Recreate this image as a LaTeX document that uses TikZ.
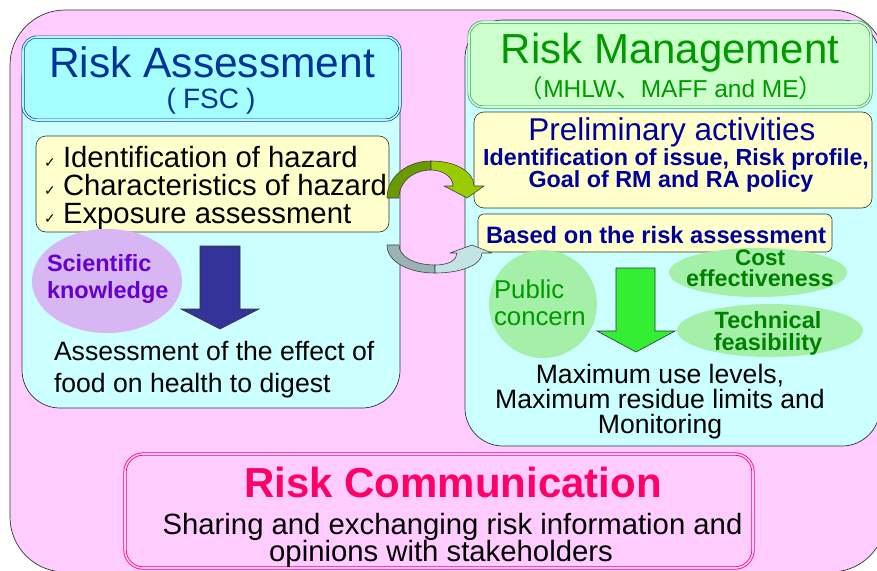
\documentclass[tikz,border=0pt]{standalone}
\usepackage{fontspec}
\setmainfont{Liberation Sans}
\newfontfamily\cjk{Noto Sans CJK JP}
\newfontfamily\dejavu{DejaVu Sans}
\usetikzlibrary{shapes.geometric}
\newcommand{\fsz}[1]{\fontsize{#1}{#1}\selectfont}
\definecolor{pinkbg}{HTML}{FFCCFF}
\definecolor{cyanp}{HTML}{CCFFFF}
\definecolor{hdrA}{HTML}{A6FFFF}
\definecolor{hdrAline}{HTML}{333399}
\definecolor{hdrM}{HTML}{CCFFCC}
\definecolor{hdrMline}{HTML}{3E9A6E}
\definecolor{yel}{HTML}{FFFFCC}
\definecolor{navy}{HTML}{000099}
\definecolor{rablue}{HTML}{003399}
\definecolor{rmgreen}{HTML}{009900}
\definecolor{dkgreen}{HTML}{008000}
\definecolor{comm}{HTML}{FF0066}
\definecolor{purp}{HTML}{6600CC}
\definecolor{lav}{HTML}{D8B6F4}
\definecolor{lgreen}{HTML}{A4F0A8}
\definecolor{arrblue}{HTML}{333399}
\definecolor{arrgreen}{HTML}{33EE33}
\definecolor{oliveD}{HTML}{6B9900}
\definecolor{oliveL}{HTML}{99CC00}
\definecolor{grayD}{HTML}{99B4B4}
\definecolor{grayL}{HTML}{C4E4E4}
\tikzset{
  panel/.style={draw=black!80, line width=0.7pt, fill=cyanp, rounded corners=38pt, inner sep=0pt},
  ybox/.style={draw=black!80, line width=0.6pt, fill=yel, rounded corners=10pt, inner sep=0pt},
  txt/.style={inner sep=0pt, outer sep=0pt},
  blob/.style={ellipse, inner sep=0pt, draw=none},
  bigarrow/.style={draw=black!80, line width=0.6pt},
  curvearrow/.style={draw=black!75, line width=0.6pt, line join=round}
}
\begin{document}
\begin{tikzpicture}[x=1pt,y=-1pt]
\useasboundingbox (0,0) rectangle (877,570);
\clip (0,0) rectangle (877,570);
% outer frame
\draw[fill=pinkbg, draw=black!80, line width=0.7pt, rounded corners=55pt] (10,10) rectangle (886,572);

% ---------------- Left panel -----------------
\node[panel, minimum width=378pt, minimum height=368pt] (lpanel) at (211,224) {};
\node[draw=hdrAline, double=hdrA, double distance=1.6pt, line width=0.7pt, fill=hdrA, rounded corners=14pt, minimum width=377pt, minimum height=83pt, inner sep=0pt] (lhead) at (211.5,78.5) {};
\node[txt, anchor=base, text=rablue] (ra1) at (212,77) {\fsz{42.5}Risk Assessment};
\node[txt, anchor=base, text=rablue] (ra2) at (211,108) {\fsz{28}(\hspace{7pt}FSC\hspace{7pt})};

\node[ybox, minimum width=353pt, minimum height=96pt] (lyel) at (212.5,184) {};
\foreach \yy/\tt [count=\i] in {167/Identification of hazard,195/Characteristics of hazard,223/Exposure assessment}{
  \node[txt, anchor=base west] (chk\i) at (44,\yy) {\dejavu\fsz{14}✓};
  \node[txt, anchor=base west] (hz\i) at (63,\yy) {\fsz{29.3}\tt};
}
\node[blob, fill=lav, minimum width=150pt, minimum height=104pt] (sci) at (107,281) {};
\node[txt, anchor=base west, text=purp] (sci1) at (47,271) {\fsz{23.5}\bfseries Scientific};
\node[txt, anchor=base west, text=purp] (sci2) at (47,298) {\fsz{23.5}\bfseries knowledge};
\draw[bigarrow, fill=arrblue] (200,246) -- (240,246) -- (240,309) -- (259,309) -- (220,329) -- (181,309) -- (200,309) -- cycle;
\node[txt, anchor=base west] (ae1) at (54,360) {\fsz{26.6}Assessment of the effect of};
\node[txt, anchor=base west] (ae2) at (54,392) {\fsz{26.6}food on health to digest};

% ---------------- Right panel -----------------
\node[panel, minimum width=415pt, minimum height=426pt] (rpanel) at (672.5,233) {};
\node[draw=hdrMline, double=hdrM, double distance=1.6pt, line width=0.7pt, fill=hdrM, rounded corners=14pt, minimum width=402pt, minimum height=85pt, inner sep=0pt] (rhead) at (670,64.5) {};
\node[txt, anchor=base, text=rmgreen] (rm1) at (670,63) {\fsz{42}Risk Management};
\node[txt, anchor=base, text=rmgreen] (rm2) at (671,97) {\fsz{24.5}{\cjk （}MHLW{\cjk 、}MAFF and ME{\cjk ）}};

\node[ybox, minimum width=398pt, minimum height=96pt] (prel) at (673,160) {};
\node[txt, anchor=base, text=navy] (pr1) at (672,140) {\fsz{31.5}Preliminary activities};
\node[txt, anchor=base, text=navy] (pr2) at (676,165) {\fsz{23.3}\bfseries Identification of issue, Risk profile,};
\node[txt, anchor=base, text=navy] (pr3) at (671,187) {\fsz{23.3}\bfseries Goal of RM and RA policy};

\node[ybox, rounded corners=6pt, minimum width=354pt, minimum height=38pt] (based) at (655,233) {};
\node[txt, anchor=base, text=navy] (bs) at (656,243) {\fsz{23.7}\bfseries Based on the risk assessment};

\node[circle, fill=lgreen, inner sep=0pt, minimum size=108pt] (pub) at (543,304) {};
\node[txt, anchor=base west, text=rmgreen] (pub1) at (494,298) {\fsz{25.8}Public};
\node[txt, anchor=base west, text=rmgreen] (pub2) at (494,325) {\fsz{25.8}concern};

\node[blob, fill=lgreen, minimum width=178pt, minimum height=49pt] (cost) at (758,272.5) {};
\node[txt, anchor=base, text=dkgreen] (cost1) at (760,265) {\fsz{22.5}\bfseries Cost};
\node[txt, anchor=base, text=dkgreen] (cost2) at (760,286.5) {\fsz{23.3}\bfseries effectiveness};

\node[blob, fill=lgreen, minimum width=186pt, minimum height=53pt] (tech) at (770,330.5) {};
\node[txt, anchor=base, text=dkgreen] (tech1) at (768,328) {\fsz{23.5}\bfseries Technical};
\node[txt, anchor=base, text=dkgreen] (tech2) at (768,350) {\fsz{23.5}\bfseries feasibility};

\draw[bigarrow, fill=arrgreen] (616,268) -- (655,268) -- (655,331) -- (675,331) -- (636,352) -- (597,331) -- (616,331) -- cycle;

\node[txt, anchor=base] (mx1) at (660,383) {\fsz{26.6}Maximum use levels,};
\node[txt, anchor=base] (mx2) at (660,408) {\fsz{26.6}Maximum residue limits and};
\node[txt, anchor=base] (mx3) at (660,433) {\fsz{26.6}Monitoring};

% ---------------- Risk communication -----------------
\node[draw=comm, double=pinkbg, double distance=1.6pt, line width=0.8pt, fill=pinkbg, rounded corners=18pt, minimum width=628pt, minimum height=114pt, inner sep=0pt] (commbox) at (439,511) {};
\node[txt, anchor=base, text=comm] (rc1) at (453,497) {\fsz{42}\bfseries Risk Communication};
\node[txt, anchor=base] (rc2) at (452.5,534) {\fsz{29.3}Sharing and exchanging risk information and};
\node[txt, anchor=base] (rc3) at (441,561) {\fsz{29.3}opinions with stakeholders};

% ---------------- curved arrows -----------------
% upper (curved down arrow)
\draw[curvearrow, fill=oliveD] (387,198) .. controls (387,177) and (407,161) .. (431,161)
   -- (431,170) .. controls (414,170) and (399,181) .. (399,198) -- cycle;
\draw[curvearrow, fill=oliveL] (431,161) .. controls (456,161) and (474,172) .. (474,186)
   -- (484,186) -- (467,198) -- (444,186) -- (453,186)
   .. controls (453,177) and (443,170) .. (431,170) -- cycle;
% lower (curved up arrow)
\draw[curvearrow, fill=grayD] (387,245) -- (399,245) .. controls (399,257) and (415,265) .. (435,265)
   -- (435,273) .. controls (409,273) and (387,262) .. (387,245) -- cycle;
\draw[curvearrow, fill=grayL] (435,265) .. controls (449,265) and (457,260) .. (457,253)
   -- (450,253) -- (472,245) -- (492,253) -- (482,253)
   .. controls (482,265) and (461,273) .. (435,273) -- cycle;
\end{tikzpicture}
\end{document}
